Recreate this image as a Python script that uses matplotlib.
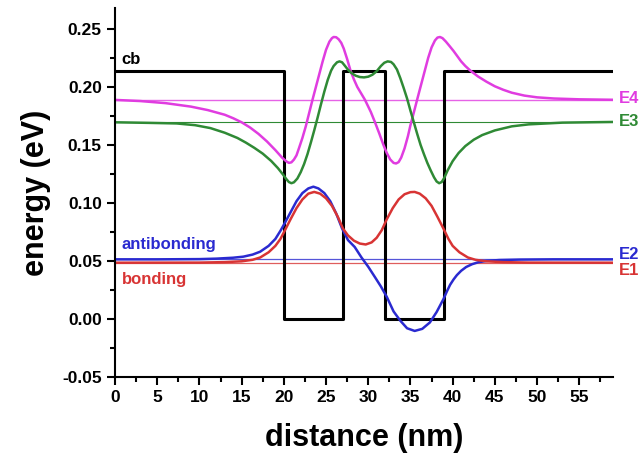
import matplotlib
matplotlib.use("Agg")
import matplotlib.pyplot as plt
from matplotlib.ticker import MultipleLocator

plt.rcParams["font.family"] = ["Liberation Sans", "DejaVu Sans"]
plt.rcParams["font.weight"] = "bold"

# conduction band profile (nm, eV)
cb_x = [0, 20, 20, 27, 27, 32, 32, 39, 39, 59]
cb_e = [0.214, 0.214, 0.0, 0.0, 0.214, 0.214, 0.0, 0.0, 0.214, 0.214]

# energy levels (eV)
levels = {"E1": 0.0485, "E2": 0.0514, "E3": 0.1695, "E4": 0.1888}

# wavefunctions, (x nm, E eV)
e4_pts = [(0, 0.1888), (3, 0.1878), (6, 0.1860), (9, 0.1830), (11, 0.1800),
          (13, 0.1760), (14, 0.1730), (15, 0.1695), (16, 0.1650), (17, 0.1595),
          (18, 0.1530), (19, 0.1455), (19.8, 0.1390), (20.3, 0.1358),
          (20.6, 0.1345), (20.9, 0.1350), (21.2, 0.1374), (21.5, 0.1410),
          (21.8, 0.1473), (22.2, 0.1560), (22.6, 0.1660), (23.0, 0.1775),
          (23.4, 0.1890), (23.8, 0.2000), (24.2, 0.2110), (24.6, 0.2220),
          (25.0, 0.2320), (25.4, 0.2390), (25.7, 0.2420), (25.9, 0.2430),
          (26.2, 0.2428), (26.5, 0.2410), (26.8, 0.2380), (27.1, 0.2330),
          (27.5, 0.2240), (27.9, 0.2140), (28.3, 0.2065), (28.7, 0.2000),
          (29.6, 0.1890), (30.3, 0.1785), (30.8, 0.1695), (31.3, 0.1600),
          (31.8, 0.1500), (32.2, 0.1430), (32.6, 0.1375), (33.0, 0.1345),
          (33.3, 0.1340), (33.6, 0.1352), (33.9, 0.1390), (34.3, 0.1470),
          (34.7, 0.1575), (35.0, 0.1670), (35.4, 0.1780), (35.9, 0.1920),
          (36.3, 0.2030), (36.7, 0.2140), (37.1, 0.2250), (37.5, 0.2340),
          (37.9, 0.2400), (38.2, 0.2425), (38.5, 0.2430), (38.8, 0.2420),
          (39.2, 0.2390), (39.6, 0.2355), (40.1, 0.2310), (40.6, 0.2260),
          (41.0, 0.2220), (41.5, 0.2180), (42.1, 0.2140), (43.0, 0.2090),
          (44.0, 0.2045), (45, 0.2005), (46, 0.1975), (47, 0.1950),
          (48.5, 0.1925), (50, 0.1910), (52, 0.1900), (55, 0.1893),
          (59, 0.1889)]

e3_pts = [(0, 0.1695), (4, 0.1690), (7.3, 0.1685), (9.5, 0.1670),
          (11.3, 0.1645), (13, 0.1605), (14.5, 0.1560), (15.5, 0.1520),
          (16.5, 0.1475), (17.5, 0.1425), (18.5, 0.1362), (19.3, 0.1300),
          (19.9, 0.1245), (20.3, 0.1205), (20.6, 0.1180), (20.9, 0.1170),
          (21.2, 0.1178), (21.6, 0.1210), (22.0, 0.1265), (22.4, 0.1335),
          (22.8, 0.1420), (23.2, 0.1520), (23.6, 0.1625), (24.0, 0.1735),
          (24.4, 0.1850), (24.8, 0.1960), (25.2, 0.2060), (25.6, 0.2140),
          (25.9, 0.2180), (26.3, 0.2212), (26.6, 0.2220), (26.9, 0.2212),
          (27.2, 0.2185), (27.6, 0.2148), (28.0, 0.2120), (28.5, 0.2097),
          (29.0, 0.2085), (29.5, 0.2082), (30.0, 0.2088), (30.5, 0.2105),
          (31.0, 0.2135), (31.5, 0.2180), (31.9, 0.2208), (32.3, 0.2220),
          (32.7, 0.2215), (33.0, 0.2195), (33.4, 0.2150), (33.8, 0.2075),
          (34.2, 0.1990), (34.6, 0.1900), (35.0, 0.1795), (35.4, 0.1695),
          (35.8, 0.1595), (36.2, 0.1500), (36.6, 0.1420), (37.0, 0.1345),
          (37.4, 0.1280), (37.8, 0.1220), (38.1, 0.1185), (38.4, 0.1170),
          (38.7, 0.1180), (39.0, 0.1215), (39.4, 0.1280), (40.0, 0.1360),
          (40.7, 0.1430), (41.5, 0.1490), (42.5, 0.1545), (43.5, 0.1585),
          (45, 0.1625), (47, 0.1660), (49, 0.1677), (53, 0.1692), (59, 0.1698)]

e2_pts = [(0, 0.0514), (5, 0.0514), (10, 0.0516), (12, 0.0520), (14, 0.0528),
          (15.2, 0.0537), (16.3, 0.0555), (17.2, 0.0580), (18.2, 0.0630),
          (19.0, 0.0690), (19.6, 0.0760), (20.1, 0.0825), (20.8, 0.0920),
          (21.5, 0.1015), (22.2, 0.1085), (22.9, 0.1125), (23.5, 0.1140),
          (24.1, 0.1125), (24.8, 0.1085), (25.5, 0.1015), (26.2, 0.0910),
          (26.9, 0.0780), (27.6, 0.0680), (28.4, 0.0620), (29.2, 0.0530),
          (30.0, 0.0450), (30.8, 0.0360), (31.5, 0.0280), (32.2, 0.0190),
          (33.0, 0.0065), (33.8, -0.0015), (34.6, -0.0080), (35.5, -0.0103),
          (36.4, -0.0085), (37.3, -0.0030), (38.1, 0.0060), (38.9, 0.0170),
          (39.3, 0.0235), (39.7, 0.0295), (40.1, 0.0340), (40.5, 0.0378),
          (41.0, 0.0415), (41.6, 0.0448), (42.3, 0.0472), (43.0, 0.0488),
          (44.0, 0.0500), (45.5, 0.0508), (48, 0.0512), (52, 0.0514),
          (59, 0.0514)]

e1_pts = [(0, 0.0485), (10, 0.0486), (13, 0.0490), (15, 0.0497), (16.3, 0.0510),
          (17.2, 0.0530), (18.2, 0.0575), (19.0, 0.0630), (19.6, 0.0690),
          (20.1, 0.0760), (20.8, 0.0860), (21.5, 0.0955), (22.2, 0.1030),
          (22.9, 0.1080), (23.6, 0.1095), (24.3, 0.1080), (25.0, 0.1040),
          (25.7, 0.0975), (26.4, 0.0880), (27.0, 0.0780), (27.6, 0.0720),
          (28.3, 0.0675), (29.0, 0.0650), (29.7, 0.0642), (30.4, 0.0660),
          (31.0, 0.0700), (31.6, 0.0765), (32.2, 0.0860), (32.9, 0.0955),
          (33.6, 0.1030), (34.3, 0.1075), (35.0, 0.1093), (35.5, 0.1095),
          (36.1, 0.1080), (36.8, 0.1040), (37.5, 0.0975), (38.2, 0.0880),
          (38.9, 0.0780), (39.5, 0.0690), (40.0, 0.0630), (40.8, 0.0575),
          (41.8, 0.0530), (42.7, 0.0510), (44, 0.0497), (46, 0.0490),
          (49, 0.0486), (59, 0.0485)]

MAGENTA = "#e03ce0"
GREEN = "#2f8a35"
BLUE = "#2a2ad0"
RED = "#d83434"

fig = plt.figure(figsize=(6.41, 4.54), dpi=100)
ax = fig.add_axes([0.1794, 0.1696, 0.777, 0.8128])

ax.axhline(levels["E4"], color=MAGENTA, lw=1.0, alpha=0.8)
ax.axhline(levels["E3"], color=GREEN, lw=0.8)
ax.axhline(levels["E2"], color=BLUE, lw=0.9, alpha=0.8)
ax.axhline(levels["E1"], color=RED, lw=0.9, alpha=0.8)

ax.plot(cb_x, cb_e, color="black", lw=2.2)
for pts, col in [(e4_pts, MAGENTA), (e3_pts, GREEN), (e2_pts, BLUE), (e1_pts, RED)]:
    xs, ys = zip(*pts)
    ax.plot(xs, ys, color=col, lw=1.8, solid_joinstyle="round")

ax.set_xlim(0, 59)
ax.set_ylim(-0.05, 0.268)
ax.xaxis.set_major_locator(MultipleLocator(5))
ax.xaxis.set_minor_locator(MultipleLocator(2.5))
ax.yaxis.set_major_locator(MultipleLocator(0.05))
ax.yaxis.set_minor_locator(MultipleLocator(0.025))
ax.yaxis.set_major_formatter(plt.FuncFormatter(lambda v, p: f"{v:.2f}"))
ax.tick_params(which="major", length=6, width=1.5, labelsize=12.5)
ax.tick_params(which="minor", length=3.5, width=1.5)
for s in ["top", "right"]:
    ax.spines[s].set_visible(False)
for s in ["left", "bottom"]:
    ax.spines[s].set_linewidth(1.5)

ax.set_xlabel("distance (nm)", fontsize=22, fontweight="bold", labelpad=13)
ax.set_ylabel("energy (eV)", fontsize=22, fontweight="bold", labelpad=8)

ax.text(0.8, 0.224, "cb", fontsize=12, fontweight="bold", va="center")
ax.text(0.8, 0.0645, "antibonding", color=BLUE, fontsize=12,
        fontweight="bold", va="center")
ax.text(0.8, 0.0336, "bonding", color=RED, fontsize=12,
        fontweight="bold", va="center")
ax.text(59.7, 0.1897, "E4", color=MAGENTA, fontsize=12, fontweight="bold",
        va="center", clip_on=False)
ax.text(59.7, 0.170, "E3", color=GREEN, fontsize=12, fontweight="bold",
        va="center", clip_on=False)
ax.text(59.7, 0.0556, "E2", color=BLUE, fontsize=12, fontweight="bold",
        va="center", clip_on=False)
ax.text(59.7, 0.0414, "E1", color=RED, fontsize=12, fontweight="bold",
        va="center", clip_on=False)

fig.savefig("out.png", dpi=100)
